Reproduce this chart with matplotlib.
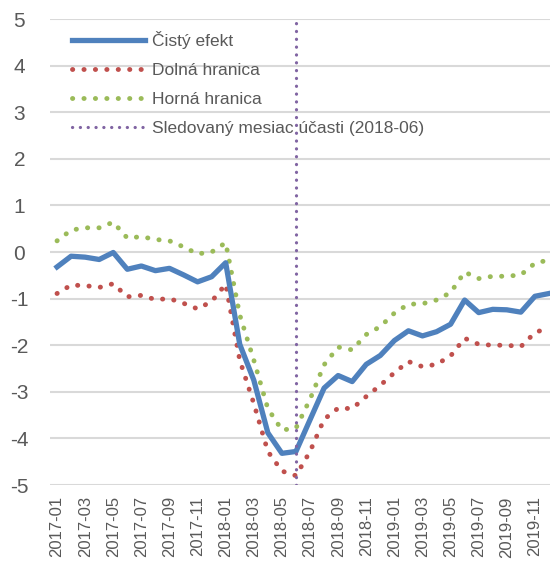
import matplotlib
matplotlib.use("Agg")
import matplotlib.pyplot as plt

plt.rcParams['font.family'] = ['Liberation Sans', 'DejaVu Sans']

months = [f"{y}-{m:02d}" for y in (2017, 2018, 2019) for m in range(1, 13)]

cisty = [-0.32, -0.09, -0.11, -0.16, -0.01, -0.37, -0.30, -0.40, -0.35, -0.49, -0.64, -0.53,
         -0.23, -1.98, -2.75, -3.88, -4.32, -4.28, -3.60, -2.92, -2.65, -2.78, -2.41, -2.22,
         -1.90, -1.69, -1.80, -1.71, -1.55, -1.03, -1.30, -1.23, -1.24, -1.29, -0.95, -0.89]
dolna = [-0.89, -0.71, -0.72, -0.76, -0.68, -0.96, -0.93, -1.02, -1.00, -1.10, -1.22, -1.06,
         -0.69, -2.32, -3.25, -4.28, -4.70, -4.80, -4.28, -3.59, -3.35, -3.36, -3.10, -2.86,
         -2.59, -2.35, -2.46, -2.41, -2.23, -1.85, -1.98, -2.00, -2.00, -2.03, -1.73, -1.62]
horna = [0.24, 0.47, 0.52, 0.52, 0.64, 0.30, 0.33, 0.27, 0.24, 0.11, -0.04, 0.00,
         0.20, -1.35, -2.32, -3.36, -3.82, -3.78, -3.16, -2.42, -2.04, -2.10, -1.77, -1.60,
         -1.31, -1.12, -1.11, -1.03, -0.87, -0.43, -0.57, -0.52, -0.52, -0.49, -0.24, -0.17]
marker_month = "2018-06"

labels = ["Čistý efekt", "Dolná hranica", "Horná hranica",
          "Sledovaný mesiac účasti (2018-06)"]

fig = plt.figure(figsize=(5.5, 5.63), dpi=100)
ax = fig.add_axes([0.0909, 0.1385, 0.92, 0.8277])

x = list(range(len(months)))
txt = '#595959'

ax.plot(x, cisty, color='#4F81BD', lw=3.8, solid_joinstyle='round', label=labels[0], zorder=4)
ax.plot(x, dolna, color='#C0504D', lw=3.5, linestyle=(0, (0.05, 2.3)),
        dash_capstyle='round', label=labels[1], zorder=3)
ax.plot(x, horna, color='#9BBB59', lw=3.5, linestyle=(0, (0.05, 2.3)),
        dash_capstyle='round', label=labels[2], zorder=3)
ax.axvline(months.index(marker_month), color='#8064A2', lw=2.3,
           linestyle=(0, (0.05, 2.4)), dash_capstyle='round', label=labels[3], zorder=5)

ax.set_xlim(-0.5, 35.5)
ax.set_ylim(-5, 5)
ax.set_yticks(range(-5, 6))
ax.set_yticklabels([str(v) for v in range(-5, 6)])
ax.set_xticks(x[::2])
ax.set_xticklabels(months[::2], rotation=90)
ax.tick_params(axis='both', length=0, colors=txt)
ax.tick_params(axis='y', pad=22, labelsize=15)
ax.tick_params(axis='x', pad=8, labelsize=12)
for lab in ax.get_yticklabels():
    lab.set_horizontalalignment('center')
ax.grid(axis='y', color='#D9D9D9', lw=1.5, zorder=0)
ax.set_axisbelow(True)
for s in ax.spines.values():
    s.set_visible(False)

leg = ax.legend(loc='upper left', bbox_to_anchor=(0.03, 0.99), frameon=False,
                fontsize=12.5, handlelength=4.2, handletextpad=0.4, labelspacing=0.8,
                borderaxespad=0)
for t in leg.get_texts():
    t.set_color(txt)

fig.savefig('out.png', dpi=100)
